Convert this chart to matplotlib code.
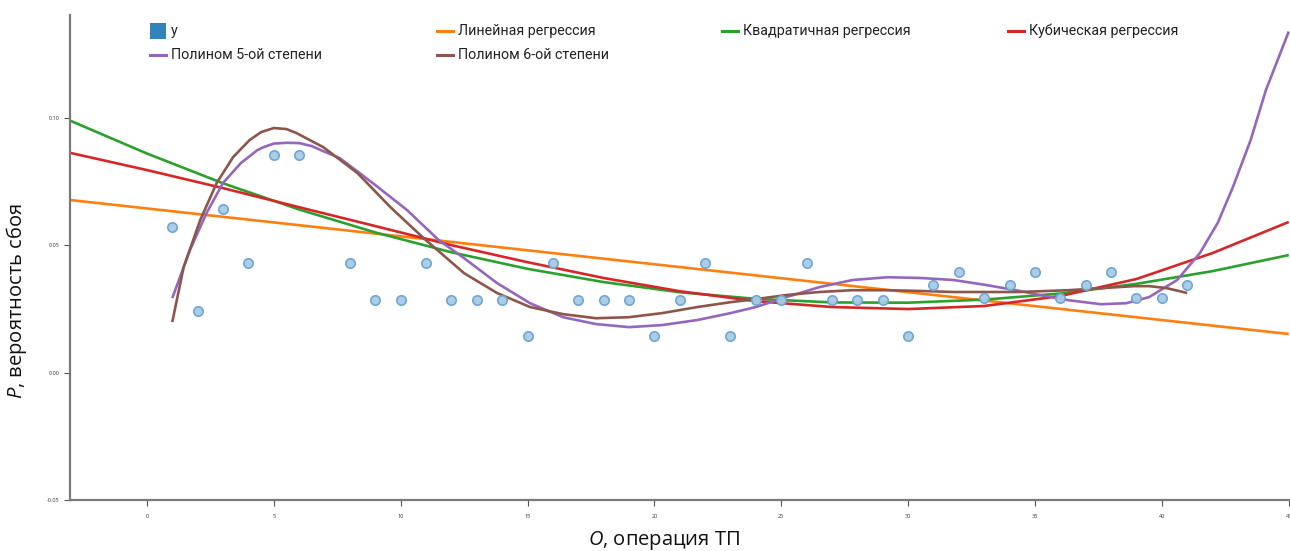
import numpy as np
import matplotlib
matplotlib.use('Agg')
import matplotlib.pyplot as plt
from matplotlib.lines import Line2D
from matplotlib.patches import Rectangle

plt.rcParams['font.family'] = ['Open Sans', 'DejaVu Sans']
plt.rcParams['mathtext.fontset'] = 'custom'
plt.rcParams['mathtext.it'] = 'Open Sans:italic'

# observed points (operation 7 is absent)
ops = [1, 2, 3, 4, 5, 6, 8, 9, 10, 11, 12, 13, 14, 15, 16, 17, 18, 19, 20, 21,
       22, 23, 24, 25, 26, 27, 28, 29, 30, 31, 32, 33, 34, 35, 36, 37, 38, 39, 40, 41]
p_fail = [0.0571, 0.0242, 0.0643, 0.0429, 0.0857, 0.0857, 0.0429, 0.0286, 0.0286, 0.0429,
          0.0286, 0.0286, 0.0286, 0.0143, 0.0429, 0.0286, 0.0286, 0.0286, 0.0143, 0.0286,
          0.0429, 0.0143, 0.0286, 0.0286, 0.0429, 0.0286, 0.0286, 0.0286, 0.0143, 0.0344,
          0.0395, 0.0294, 0.0344, 0.0395, 0.0294, 0.0344, 0.0395, 0.0294, 0.0294, 0.0344]

# regression curves
lin_x = [-3, 45]
lin_y = [0.0678, 0.0152]

quad_x = [-3, 0, 3, 6, 9, 12, 15, 18, 21, 24, 27, 30, 33, 36, 39, 42, 45]
quad_y = [0.0989, 0.0861, 0.0744, 0.0641, 0.0551, 0.0473, 0.0408, 0.0356, 0.0316,
          0.0290, 0.0276, 0.0275, 0.0287, 0.0311, 0.0349, 0.0399, 0.0462]

cub_x = [-3, 0, 3, 6, 9, 12, 15, 18, 21, 24, 27, 30, 33, 36, 39, 42, 45]
cub_y = [0.0863, 0.0796, 0.0725, 0.0650, 0.0576, 0.0501, 0.0434, 0.0372, 0.0320,
         0.0281, 0.0258, 0.0250, 0.0262, 0.0301, 0.0368, 0.0470, 0.0592]

p5_x = [1.0, 1.7, 2.35, 3.0, 3.7, 4.35, 4.6, 5.0, 5.5, 6.0, 6.5, 7.0, 7.6, 8.9, 10.25,
        11.5, 12.5, 13.8, 15.1, 16.4, 17.7, 19.0, 20.3, 21.7, 23.0, 24.0, 25.2, 26.5,
        27.8, 29.2, 30.5, 31.8, 33.1, 34.4, 35.0, 36.3, 37.6, 38.6, 39.5, 40.6, 41.5,
        42.2, 42.8, 43.5, 44.1, 45.0]
p5_y = [0.0293, 0.0482, 0.0627, 0.0745, 0.0823, 0.0874, 0.0886, 0.0900, 0.0903, 0.0902,
        0.0890, 0.0868, 0.0843, 0.0745, 0.0639, 0.0521, 0.0450, 0.0352, 0.0273, 0.0218,
        0.0191, 0.0179, 0.0187, 0.0207, 0.0234, 0.0258, 0.0297, 0.0336, 0.0364, 0.0375,
        0.0372, 0.0364, 0.0344, 0.0321, 0.0309, 0.0285, 0.0269, 0.0273, 0.0297, 0.0364,
        0.0470, 0.0588, 0.0729, 0.0914, 0.1110, 0.1340]

p6_x = [1.0, 1.45, 2.1, 2.75, 3.4, 4.05, 4.5, 5.0, 5.5, 5.9, 6.95, 8.3, 9.6, 10.9, 12.5,
        13.8, 15.1, 16.4, 17.7, 19.0, 20.3, 21.7, 23.0, 24.0, 25.2, 26.5, 27.8, 29.2,
        30.5, 31.8, 33.1, 34.4, 36.3, 37.6, 38.9, 39.5, 40.2, 41.0]
p6_y = [0.0199, 0.0415, 0.0599, 0.0745, 0.0847, 0.0914, 0.0945, 0.0961, 0.0957, 0.0941,
        0.0886, 0.0784, 0.0650, 0.0529, 0.0391, 0.0313, 0.0258, 0.0230, 0.0214, 0.0218,
        0.0234, 0.0258, 0.0277, 0.0289, 0.0305, 0.0317, 0.0324, 0.0324, 0.0321, 0.0317,
        0.0317, 0.0317, 0.0324, 0.0332, 0.0340, 0.0340, 0.0332, 0.0313]

labels = ['y', 'Линейная регрессия', 'Квадратичная регрессия', 'Кубическая регрессия',
          'Полином 5-ой степени', 'Полином 6-ой степени']
colors = ['#3182bd', '#ff7f0e', '#2ca02c', '#d62728', '#9467bd', '#8c564b']

W, H = 1290, 551
fig = plt.figure(figsize=(W / 100, H / 100), dpi=100)
ax = fig.add_axes([70 / W, 51 / H, 1220 / W, 485 / H])

curves = [(lin_x, lin_y), (quad_x, quad_y), (cub_x, cub_y), (p5_x, p5_y), (p6_x, p6_y)]
for (cx, cy), c in zip(curves, colors[1:]):
    ax.plot(cx, cy, color=c, lw=1.9, solid_capstyle='butt', zorder=2)

ax.scatter(ops, p_fail, s=46, facecolor='#a9cbe6', edgecolor='#6aa4d4', linewidth=1.2,
           alpha=0.95, zorder=3)

ax.set_xlim(-3.03, 45.05)
ax.set_ylim(-0.05, 0.1405)
ax.set_xticks(range(0, 50, 5))
ax.set_yticks([-0.05, 0.0, 0.05, 0.10])
ax.set_yticklabels(['-0.05', '0.00', '0.05', '0.10'])
ax.tick_params(axis='both', labelsize=4, colors='#555555', length=4, width=0.8,
               labelcolor='#333333')
ax.tick_params(axis='x', pad=6)
for s in ['top', 'right']:
    ax.spines[s].set_visible(False)
for s in ['left', 'bottom']:
    ax.spines[s].set_color('#7a7a7a')
    ax.spines[s].set_linewidth(1.6)

fig.text(17 / W, 1 - 301 / H, '$P$, вероятность сбоя', rotation=90, fontsize=14.5,
         ha='center', va='center', color='#111111')
fig.text(664 / W, 1 - 540 / H, '$O$, операция ТП', fontsize=14.5,
         ha='center', va='center', color='#111111')

# legend laid out like the original: four columns, two rows
leg_pos = [(150, 31), (437, 31), (722, 31), (1008, 31), (150, 55), (437, 55)]
for (lx, ly), lab, c in zip(leg_pos, labels, colors):
    if lab == 'y':
        fig.add_artist(Rectangle((lx / W, 1 - (ly + 8) / H), 16 / W, 16 / H,
                                 transform=fig.transFigure, facecolor=c, edgecolor='none'))
    else:
        fig.add_artist(Line2D([lx / W, (lx + 16) / W], [1 - ly / H, 1 - ly / H],
                              transform=fig.transFigure, color=c, lw=2.2))
    fig.text((lx + 21) / W, 1 - ly / H, lab, fontsize=10.3, family=['Roboto', 'DejaVu Sans'],
             ha='left', va='center', color='#222222')

fig.savefig('out.png', dpi=100)
